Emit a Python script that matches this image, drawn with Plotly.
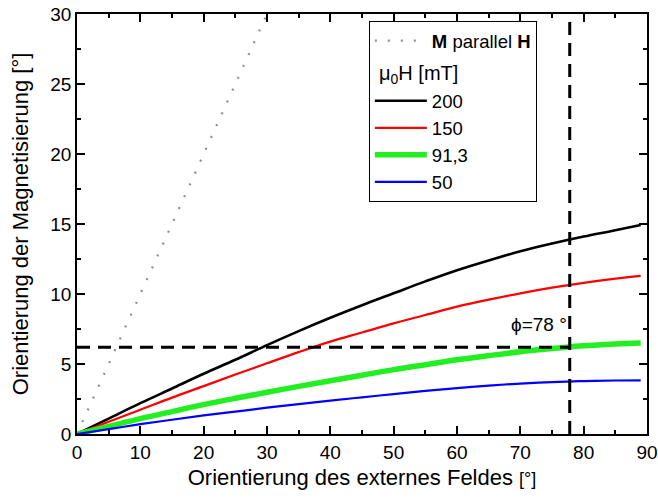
import plotly.graph_objects as go

# Field orientation (degrees)
x_deg = [0, 5, 10, 15, 20, 25, 30, 35, 40, 45, 50, 55, 60, 65, 70, 75, 80, 85, 89]

# Magnetisation orientation for each mu0H (mT)
m_200 = [0, 1.1, 2.2, 3.25, 4.3, 5.3, 6.35, 7.35, 8.3, 9.2, 10.05, 10.9, 11.7, 12.4, 13.05, 13.6, 14.1, 14.55, 14.93]
m_150 = [0, 0.87, 1.73, 2.6, 3.42, 4.25, 5.05, 5.85, 6.6, 7.25, 7.9, 8.5, 9.1, 9.6, 10.05, 10.45, 10.8, 11.1, 11.3]
m_913 = [0, 0.55, 1.1, 1.6, 2.1, 2.55, 2.98, 3.4, 3.8, 4.2, 4.6, 4.95, 5.3, 5.6, 5.88, 6.1, 6.3, 6.43, 6.5]
m_50 = [0, 0.35, 0.7, 1.02, 1.33, 1.6, 1.88, 2.13, 2.38, 2.62, 2.85, 3.08, 3.28, 3.46, 3.6, 3.71, 3.78, 3.82, 3.83]

# M parallel H reference line
par_x = [0, 30]
par_y = [0, 30]

# Marker lines
phi_x = 77.8
phi_y = 6.2

series = [
    ("200", m_200, "black", 2.6),
    ("150", m_150, "red", 2.2),
    ("91,3", m_913, "#22ee22", 5.5),
    ("50", m_50, "blue", 2.2),
]

fig = go.Figure()

fig.add_trace(go.Scatter(x=par_x, y=par_y, mode="lines", legendgroup="a",
                         line=dict(color="#909090", width=2.2, dash="2px,11px"),
                         name="<b>M</b> parallel <b>H</b>"))
# blank entry used as the legend header row
fig.add_trace(go.Scatter(x=[None], y=[None], mode="lines", legendgroup="b",
                         line=dict(color="rgba(0,0,0,0)", width=0),
                         name="\u00a0", hoverinfo="skip"))
for name, ys, col, w in series:
    fig.add_trace(go.Scatter(x=x_deg, y=ys, mode="lines", line_shape="spline",
                             legendgroup="c",
                             line=dict(color=col, width=w), name=name))

fig.add_trace(go.Scatter(x=[0, phi_x], y=[phi_y, phi_y], mode="lines",
                         line=dict(color="black", width=3, dash="13px,8px"),
                         showlegend=False, hoverinfo="skip"))
fig.add_trace(go.Scatter(x=[phi_x, phi_x], y=[0, 30], mode="lines",
                         line=dict(color="black", width=3, dash="13px,8px"),
                         showlegend=False, hoverinfo="skip"))

fig.add_annotation(x=73, y=7.8, text="ϕ=78 °", showarrow=False,
                   font=dict(size=19, color="black"))

fig.add_annotation(xref="paper", yref="paper", x=0.527, y=0.857,
                   xanchor="left", yanchor="middle", showarrow=False,
                   text="μ<sub>0</sub>H [mT]", font=dict(size=20, color="black"))

axis_common = dict(showline=True, linecolor="black", linewidth=1.5, mirror="allticks",
                   ticks="inside", ticklen=8, tickwidth=1.5, tickcolor="black",
                   showgrid=False, zeroline=False, automargin=False,
                   ticklabeloverflow="allow",
                   tickfont=dict(size=19, color="black", family="Liberation Sans, Arial"))

fig.update_xaxes(range=[0, 90], dtick=10, tick0=0,
                 minor=dict(ticks="inside", ticklen=4, dtick=5, tickcolor="black", tickwidth=1.5),
                 title=dict(text="Orientierung des externes Feldes <span style='font-size:18px'>[°]</span>",
                            font=dict(size=22, color="black"), standoff=8),
                 **axis_common)
fig.update_yaxes(range=[0, 30], dtick=5, tick0=0,
                 minor=dict(ticks="inside", ticklen=4, dtick=2.5, tickcolor="black", tickwidth=1.5),
                 title=dict(text="Orientierung der Magnetisierung [°]",
                            font=dict(size=22, color="black"), standoff=16),
                 **axis_common)

fig.update_layout(
    width=658, height=501,
    margin=dict(l=77, r=11, t=14, b=67),
    paper_bgcolor="white", plot_bgcolor="white",
    font=dict(family="Liberation Sans, Arial", color="black"),
    legend=dict(x=0.512, y=0.983, xanchor="left", yanchor="top",
                bordercolor="black", borderwidth=1, bgcolor="white",
                font=dict(size=18.5, color="black"), itemwidth=52,
                tracegroupgap=3),
)

fig.write_html("out.html", config={"displayModeBar": False},
               post_script="document.body.style.margin='0px';")
